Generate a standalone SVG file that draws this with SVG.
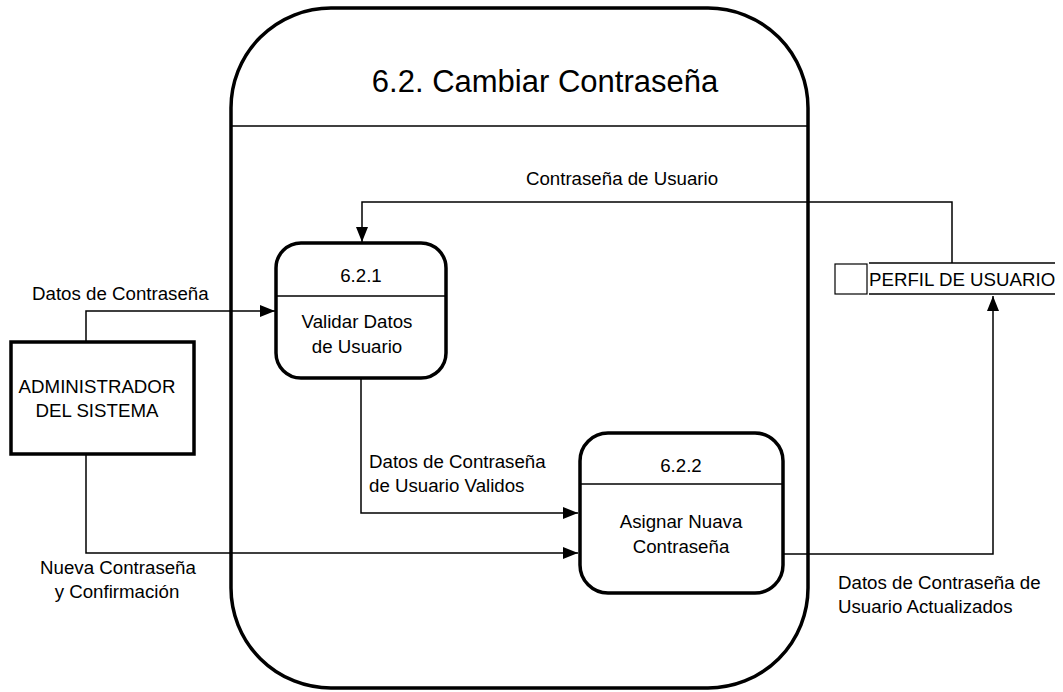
<svg xmlns="http://www.w3.org/2000/svg" width="1063" height="692" viewBox="0 0 1063 692">
<style>
text{font-family:"Liberation Sans",Arial,sans-serif;font-size:18.7px;fill:#000}
.c{text-anchor:middle}
.thick{fill:#fff;stroke:#000;stroke-width:3.5}
.div{stroke:#000;stroke-width:1.5;fill:none}
.flow{fill:none;stroke:#000;stroke-width:1.5}
</style>
<defs>
<marker id="arr" markerUnits="userSpaceOnUse" markerWidth="16" markerHeight="12" refX="15" refY="6" orient="auto">
<path d="M0,0 L15,6 L0,12 Z" fill="#000"/>
</marker>
</defs>
<rect width="1063" height="692" fill="#fff"/>
<g id="boundary">
<rect class="thick" x="231" y="8" width="577" height="680" rx="100" ry="100"/>
<line class="div" x1="231" y1="126" x2="808" y2="126"/>
<text class="c" x="545" y="92" style="font-size:31px">6.2. Cambiar Contraseña</text>
</g>
<g id="p621">
<rect class="thick" x="276" y="243" width="170" height="135" rx="25" ry="25"/>
<line class="div" x1="276" y1="296" x2="446" y2="296"/>
<text class="c" x="361" y="282">6.2.1</text>
<text class="c" x="357" y="328">Validar Datos</text>
<text class="c" x="357" y="353">de Usuario</text>
</g>
<g id="p622">
<rect class="thick" x="580" y="433" width="203" height="160" rx="28" ry="28"/>
<line class="div" x1="580" y1="484" x2="783" y2="484"/>
<text class="c" x="681" y="472">6.2.2</text>
<text class="c" x="681" y="528">Asignar Nuava</text>
<text class="c" x="681" y="553">Contraseña</text>
</g>
<g id="admin">
<rect x="11" y="342" width="183" height="112" fill="#fff" stroke="#000" stroke-width="3.5"/>
<text class="c" x="97" y="393">ADMINISTRADOR</text>
<text class="c" x="97" y="417">DEL SISTEMA</text>
</g>
<g id="perfil">
<rect x="835" y="264" width="32" height="30" fill="#fff" stroke="#000" stroke-width="1.2"/>
<line x1="869" y1="263" x2="1055" y2="263" stroke="#000" stroke-width="1.5"/>
<line x1="869" y1="294" x2="1055" y2="294" stroke="#000" stroke-width="1.5"/>
<text x="869" y="286">PERFIL DE USUARIO</text>
</g>
<g id="connectors">
<polyline class="flow" points="86,342 86,311 275,311" marker-end="url(#arr)"/>
<polyline class="flow" points="86,454 86,553 578,553" marker-end="url(#arr)"/>
<polyline class="flow" points="361,378 361,513 578,513" marker-end="url(#arr)"/>
<polyline class="flow" points="783,554 993,554 993,296" marker-end="url(#arr)"/>
<polyline class="flow" points="952,263 952,202 362,202 362,242" marker-end="url(#arr)"/>
<text x="32" y="300">Datos de Contraseña</text>
<text class="c" x="118" y="574">Nueva Contraseña</text>
<text class="c" x="117" y="598">y Confirmación</text>
<text x="369" y="468">Datos de Contraseña</text>
<text x="369" y="492">de Usuario Validos</text>
<text x="838" y="589">Datos de Contraseña de</text>
<text x="838" y="613">Usuario Actualizados</text>
<text class="c" x="622" y="185">Contraseña de Usuario</text>
</g>
</svg>
